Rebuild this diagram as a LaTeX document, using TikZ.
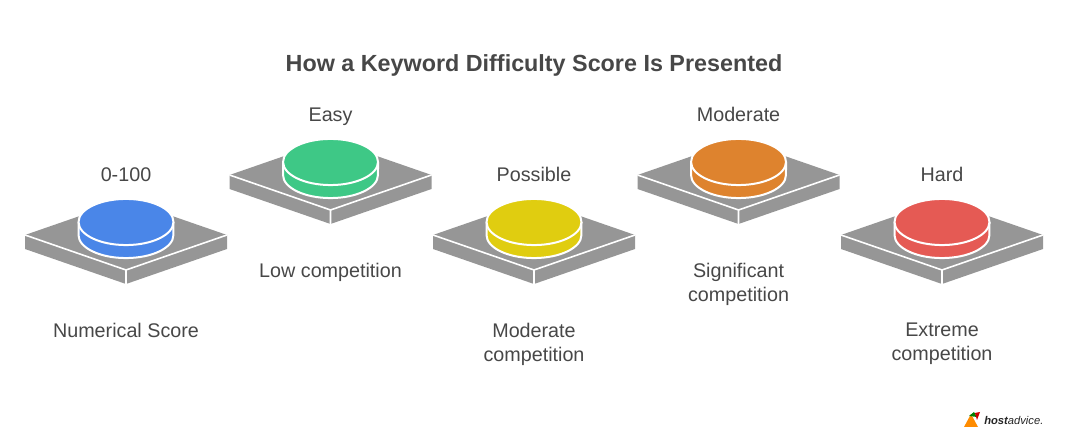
\documentclass[tikz,border=0pt]{standalone}
\usepackage{xcolor}
\usepackage{fontspec}
\setmainfont{Liberation Sans}
\usetikzlibrary{positioning}
\definecolor{ScoreBlue}{HTML}{4A86E8}
\definecolor{ScoreGreen}{HTML}{3EC886}
\definecolor{ScoreYellow}{HTML}{E0CD10}
\definecolor{ScoreOrange}{HTML}{DE832E}
\definecolor{ScoreRed}{HTML}{E55A54}
\definecolor{PadGray}{HTML}{969696}
\definecolor{LabelGray}{HTML}{474747}

\begin{document}
\begin{tikzpicture}[x=0.75pt, y=-0.75pt, every node/.style={font=\fontsize{14.8pt}{18pt}\selectfont, text=LabelGray}]
      \tikzset{
        spot/.style={inner sep=0pt, minimum size=0pt},
        toplabel/.style={inner sep=0pt, text height=10pt, text depth=3pt},
        sublabel/.style={inner sep=0pt, align=center, execute at begin node=\strut},
        rim/.style={color=white, line width=1.5pt},
        pics/scorepad/.style={code={
          \fill[PadGray] (-101,0) -- (0,-35) -- (101,0) -- (101,14) -- (0,49) -- (-101,14) -- cycle;
          \draw[rim, line width=1.2pt] (-101,0) -- (0,35) -- (101,0) (0,35) -- (0,49);
          \fill[#1] (-47.5,-13) -- (-47.5,0) arc[start angle=180, end angle=360, x radius=35.6pt, y radius=17.3pt] -- (47.5,-13) -- cycle;
          \draw[rim] (-47.5,-13) -- (-47.5,0) arc[start angle=180, end angle=360, x radius=35.6pt, y radius=17.3pt] -- (47.5,-13);
          \fill[#1] (0,-13) ellipse[x radius=35.6pt, y radius=17.3pt];
          \draw[rim] (0,-13) ellipse[x radius=35.6pt, y radius=17.3pt];
        }}
      }
      \useasboundingbox (0,0) rectangle (1068,448);

      % Title
      \node[font=\fontsize{17.5pt}{22pt}\selectfont\bfseries] (title) at (534,65.5) {How a Keyword Difficulty Score Is Presented};

      % Pads
      \node[spot] (score) at (126,235) {};
      \node[spot, right=153pt of score, yshift=45pt] (easy) {};
      \node[spot] (possible) at (534,235) {};
      \node[spot, right=153pt of possible, yshift=45pt] (moderate) {};
      \node[spot] (hard) at (942,235) {};

      \pic at (score) {scorepad=ScoreBlue};
      \pic at (easy) {scorepad=ScoreGreen};
      \pic at (possible) {scorepad=ScoreYellow};
      \pic at (moderate) {scorepad=ScoreOrange};
      \pic at (hard) {scorepad=ScoreRed};

      % Labels
      \node[toplabel, above=36.75pt of score] (scoretop) {0-100};
      \node[toplabel, above=36.75pt of easy] (easytop) {Easy};
      \node[toplabel, above=36.75pt of possible] (possibletop) {Possible};
      \node[toplabel, above=36.75pt of moderate] (moderatetop) {Moderate};
      \node[toplabel, above=36.75pt of hard] (hardtop) {Hard};

      \node[sublabel, below=64.25pt of score] (scoretext) {Numerical Score};
      \node[sublabel, below=64.25pt of easy] (easytext) {Low competition};
      \node[sublabel, below=65.75pt of possible] (possibletext) {Moderate\\competition};
      \node[sublabel, below=65.75pt of moderate] (moderatetext) {Significant\\competition};
      \node[sublabel, below=65.75pt of hard] (hardtext) {Extreme\\competition};

      % Logo
      \node[inner sep=0pt, anchor=west, font=\fontsize{8.4pt}{10pt}\selectfont\itshape, text=black!85] (logo) at (984,421) {\textbf{host}advice.};
      \fill[orange!90!yellow] (964,427) -- (971,414) -- (978,427) -- cycle;
      \fill[green!50!black] (969,416) -- (974,412) -- (977,417) -- cycle;
      \fill[red!80!black] (975,413) -- (980,412) -- (977,420) -- cycle;

    \end{tikzpicture}
\end{document}
